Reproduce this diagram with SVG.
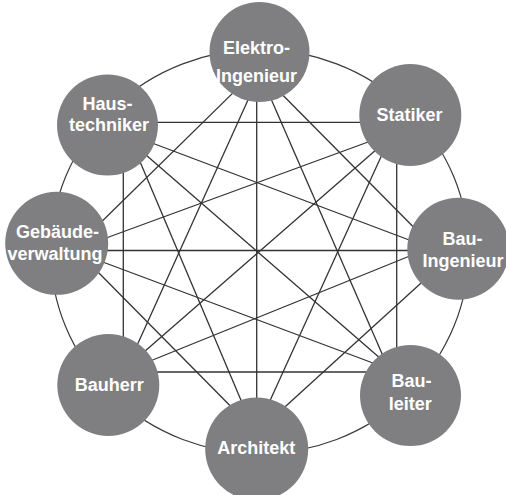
<svg xmlns="http://www.w3.org/2000/svg" width="506" height="495" viewBox="0 0 506 495">
<style>
.bg{fill:#ffffff}
.ring{fill:none;stroke:#3a3a3a;stroke-width:1.2}
.ln{stroke:#333333;stroke-width:1.3;fill:none}
.node{fill:#7f7f82}
.lbl{font-family:"Liberation Sans",Arial,sans-serif;font-size:18px;font-weight:bold;fill:#ffffff;text-anchor:middle}
</style>
<rect class="bg" x="0" y="0" width="506" height="495"/>
<ellipse class="ring" cx="259.7" cy="251.7" rx="209" ry="202"/>
<g id="connectors">
<line class="ln" x1="123" y1="122.3" x2="397" y2="122.3"/>
<line class="ln" x1="123" y1="372" x2="397" y2="372"/>
<line class="ln" x1="123.3" y1="122.3" x2="123.3" y2="372"/>
<line class="ln" x1="396.7" y1="122.3" x2="396.7" y2="372"/>
<line class="ln" x1="256.7" y1="69" x2="256.7" y2="440"/>
<line class="ln" x1="72" y1="250.5" x2="437" y2="250.5"/>
<line class="ln" x1="256.7" y1="69.6" x2="72.2" y2="250.5"/>
<line class="ln" x1="256.7" y1="68.7" x2="436.7" y2="250.5"/>
<line class="ln" x1="262" y1="69" x2="125" y2="372"/>
<line class="ln" x1="258" y1="69" x2="390" y2="372"/>
<line class="ln" x1="108" y1="122" x2="396" y2="372"/>
<line class="ln" x1="408" y1="122" x2="121" y2="372"/>
<line class="ln" x1="107" y1="126" x2="437" y2="250.5"/>
<line class="ln" x1="72" y1="250.5" x2="409" y2="127"/>
<line class="ln" x1="123.3" y1="122.3" x2="257" y2="438"/>
<line class="ln" x1="396.7" y1="122.3" x2="253" y2="438"/>
<line class="ln" x1="72" y1="250.5" x2="397" y2="372"/>
<line class="ln" x1="123" y1="372" x2="437" y2="245"/>
<line class="ln" x1="76.7" y1="250.5" x2="260" y2="436"/>
<line class="ln" x1="456.8" y1="250.5" x2="253" y2="436"/>
</g>
<g id="elektro">
<circle class="node" cx="259.5" cy="52" r="50"/>
<text class="lbl" x="256.5" y="53.5">Elektro-</text>
<text class="lbl" x="256.5" y="81.5">Ingenieur</text>
</g>
<g id="statiker">
<circle class="node" cx="410.3" cy="115" r="51"/>
<text class="lbl" x="409.5" y="120.7">Statiker</text>
</g>
<g id="bauingenieur">
<circle class="node" cx="458.3" cy="248.7" r="51"/>
<text class="lbl" x="462.5" y="245">Bau-</text>
<text class="lbl" x="463" y="267.3">Ingenieur</text>
</g>
<g id="bauleiter">
<circle class="node" cx="410.5" cy="395.5" r="50.5"/>
<text class="lbl" x="411.5" y="386.7">Bau-</text>
<text class="lbl" x="410.3" y="410">leiter</text>
</g>
<g id="architekt">
<circle class="node" cx="256.7" cy="449" r="51.5"/>
<text class="lbl" x="256.2" y="454.3">Architekt</text>
</g>
<g id="bauherr">
<circle class="node" cx="108.3" cy="385" r="51"/>
<text class="lbl" x="109.2" y="391">Bauherr</text>
</g>
<g id="gebaeudeverwaltung">
<circle class="node" cx="56.7" cy="243.3" r="51.5"/>
<text class="lbl" x="57.5" y="238.3">Gebäude-</text>
<text class="lbl" x="55" y="260">verwaltung</text>
</g>
<g id="haustechniker">
<circle class="node" cx="107.5" cy="125" r="50.5"/>
<text class="lbl" x="107.5" y="110">Haus-</text>
<text class="lbl" x="109" y="131">techniker</text>
</g>
</svg>
